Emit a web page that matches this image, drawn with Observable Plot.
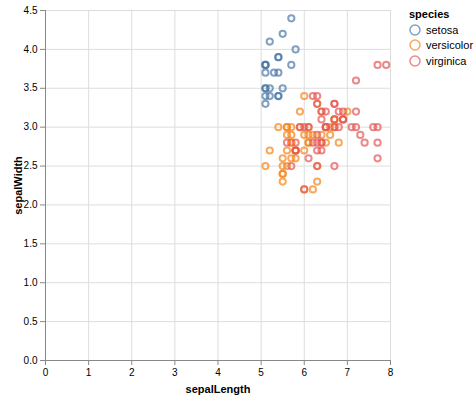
<!DOCTYPE html>
<html>
<head>
<meta charset="utf-8">
<script src="https://cdn.jsdelivr.net/npm/d3@7"></script>
<script src="https://cdn.jsdelivr.net/npm/@observablehq/plot@0.6"></script>
<style>
  body { margin: 0; background: #fff; font-family: "Liberation Sans", Arial, sans-serif; }
  #wrap { position: relative; width: 475px; height: 397px; }
  #chart { position: absolute; left: 0; top: 0; }
  #legend { position: absolute; left: 409px; top: 8px; font-size: 11px; color: #000; }
  #legend .title { font-weight: bold; margin-bottom: 2px; }
  #legend .item { display: flex; align-items: center; height: 15.5px; }
  #legend svg { margin-right: 5px; }
  g[aria-label="x-axis label"] text, g[aria-label="y-axis label"] text { font-weight: bold; font-size: 11px; }
</style>
</head>
<body>
<div id="wrap"><div id="chart"></div><div id="legend"></div></div>
<script>
// Iris measurements shown in the chart (sepalLength > 5)
const speciesNames = ["setosa", "versicolor", "virginica"];
const speciesColors = ["#4c78a8", "#f58518", "#e45756"];

const setosaLength = [5.1,5.4,5.4,5.8,5.7,5.4,5.1,5.7,5.1,5.4,5.1,5.1,5.2,5.2,5.4,5.2,5.5,5.5,5.1,5.1,5.1,5.3];
const setosaWidth  = [3.5,3.9,3.7,4.0,4.4,3.9,3.5,3.8,3.8,3.4,3.7,3.3,3.5,3.4,3.4,4.1,4.2,3.5,3.4,3.8,3.8,3.7];

const versicolorLength = [7.0,6.4,6.9,5.5,6.5,5.7,6.3,6.6,5.2,5.9,6.0,6.1,5.6,6.7,5.6,5.8,6.2,5.6,5.9,6.1,6.3,6.1,6.4,6.6,6.8,6.7,6.0,5.7,5.5,5.5,5.8,6.0,5.4,6.0,6.7,6.3,5.6,5.5,5.5,6.1,5.8,5.6,5.7,5.7,6.2,5.1,5.7];
const versicolorWidth  = [3.2,3.2,3.1,2.3,2.8,2.8,3.3,2.9,2.7,3.0,2.2,2.9,2.9,3.1,3.0,2.7,2.2,2.5,3.2,2.8,2.5,2.8,2.9,3.0,2.8,3.0,2.9,2.6,2.4,2.4,2.7,2.7,3.0,3.4,3.1,2.3,3.0,2.5,2.6,3.0,2.6,2.7,3.0,2.9,2.9,2.5,2.8];

const virginicaLength = [6.3,5.8,7.1,6.3,6.5,7.6,7.3,6.7,7.2,6.5,6.4,6.8,5.7,5.8,6.4,6.5,7.7,7.7,6.0,6.9,5.6,7.7,6.3,6.7,7.2,6.2,6.1,6.4,7.2,7.4,7.9,6.4,6.3,6.1,7.7,6.3,6.4,6.0,6.9,6.7,6.9,5.8,6.8,6.7,6.7,6.3,6.5,6.2,5.9];
const virginicaWidth  = [3.3,2.7,3.0,2.9,3.0,3.0,2.9,2.5,3.6,3.2,2.7,3.0,2.5,2.8,3.2,3.0,3.8,2.6,2.2,3.2,2.8,2.8,2.7,3.3,3.2,2.8,3.0,2.8,3.0,2.8,3.8,2.8,2.8,2.6,3.0,3.4,3.1,3.0,3.1,3.1,3.1,2.7,3.2,3.3,3.0,2.5,3.0,3.4,3.0];

const xTicks = [0,1,2,3,4,5,6,7,8];
const yTicks = [0,0.5,1,1.5,2,2.5,3,3.5,4,4.5];

const rows = [];
[[setosaLength, setosaWidth], [versicolorLength, versicolorWidth], [virginicaLength, virginicaWidth]]
  .forEach(([L, W], i) => L.forEach((v, j) => rows.push({sepalLength: v, sepalWidth: W[j], species: speciesNames[i]})));

const plot = Plot.plot({
  width: 395,
  height: 397,
  marginTop: 10,
  marginBottom: 37,
  marginLeft: 45,
  marginRight: 5,
  style: {fontFamily: '"Liberation Sans", Arial, sans-serif', fontSize: "10px", color: "#000", background: "#fff"},
  x: {domain: [0, 8]},
  y: {domain: [0, 4.5]},
  color: {domain: speciesNames, range: speciesColors},
  marks: [
    Plot.ruleX(xTicks, {stroke: "#ddd", strokeWidth: 1}),
    Plot.ruleY(yTicks, {stroke: "#ddd", strokeWidth: 1}),
    Plot.ruleX([0], {stroke: "#888"}),
    Plot.ruleY([0], {stroke: "#888"}),
    Plot.axisX({ticks: xTicks, tickSize: 5, tickPadding: 3, stroke: "#888", label: "sepalLength", labelAnchor: "center", labelArrow: "none", labelOffset: 32}),
    Plot.axisY({ticks: yTicks, tickSize: 5, tickPadding: 3, stroke: "#888", tickFormat: d3.format(".1f"), label: "sepalWidth", labelAnchor: "center", labelArrow: "none", labelOffset: 31}),
    Plot.dot(rows, {x: "sepalLength", y: "sepalWidth", stroke: "species", r: 3.1, strokeWidth: 2, strokeOpacity: 0.7, fill: "none"})
  ]
});
document.getElementById("chart").appendChild(plot);

const legend = d3.select("#legend");
legend.append("div").attr("class", "title").text("species");
speciesNames.forEach((s, i) => {
  const item = legend.append("div").attr("class", "item");
  const svg = item.append("svg").attr("width", 12).attr("height", 12);
  svg.append("circle").attr("cx", 6).attr("cy", 6).attr("r", 5)
    .attr("fill", "none").attr("stroke", speciesColors[i]).attr("stroke-width", 1.5).attr("stroke-opacity", 0.7);
  item.append("span").text(s);
});
</script>
</body>
</html>
